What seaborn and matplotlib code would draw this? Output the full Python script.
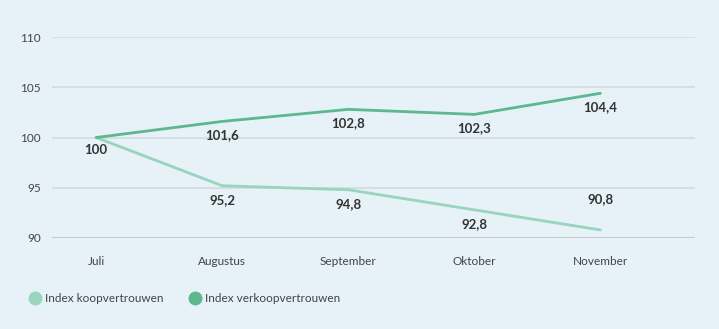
import matplotlib
matplotlib.use("Agg")
import matplotlib.pyplot as plt
import seaborn as sns
import pandas as pd
from matplotlib.lines import Line2D

months = ["Juli", "Augustus", "September", "Oktober", "November"]
koop = [100, 95.2, 94.8, 92.8, 90.8]
verkoop = [100, 101.6, 102.8, 102.3, 104.4]
series_names = ["Index koopvertrouwen", "Index verkoopvertrouwen"]
yticks = [90, 95, 100, 105, 110]

bg = "#e7f1f8"
c_koop = "#98d4be"
c_verkoop = "#5db78f"

sns.set_theme(style="white")
plt.rcParams["font.family"] = ["Lato", "DejaVu Sans"]

df = pd.DataFrame({
    "maand": months * 2,
    "x": list(range(len(months))) * 2,
    "waarde": koop + verkoop,
    "reeks": [series_names[0]] * len(months) + [series_names[1]] * len(months),
})

fig = plt.figure(figsize=(7.19, 3.29), dpi=100, facecolor=bg)
ax = fig.add_axes([0.0723, 0.2766, 0.8943, 0.6109])
ax.set_facecolor(bg)

for y in yticks[1:]:
    ax.axhline(y, color="#d3dbe0", lw=1.2, zorder=0)
ax.axhline(90, color="#c5c9cb", lw=2.2, zorder=1)

sns.lineplot(data=df, x="x", y="waarde", hue="reeks",
             palette={series_names[0]: c_koop, series_names[1]: c_verkoop},
             lw=2.0, ax=ax, legend=False, sort=False, zorder=3)

def fmt(v):
    s = f"{v:g}"
    return s.replace(".", ",")

for i, v in enumerate(verkoop):
    if i == 0:
        continue
    ax.annotate(fmt(v), (i, v), xytext=(0, -10), textcoords="offset points",
                ha="center", va="center", fontsize=9.5, fontweight="bold", color="#333333")
for i, v in enumerate(koop):
    if i == len(koop) - 1:
        off = 22
    elif i == 0:
        off = -9
    else:
        off = -10
    ax.annotate(fmt(v), (i, v), xytext=(0, off), textcoords="offset points",
                ha="center", va="center", fontsize=9.5, fontweight="bold", color="#333333")

ax.set_xlim(-0.35, 4.75)
ax.set_ylim(90, 110)
ax.set_yticks(yticks)
ax.set_yticklabels([str(t) for t in yticks])
ax.set_xticks(range(len(months)))
ax.set_xticklabels(months)
ax.tick_params(axis="y", length=0, pad=8, labelsize=8.5, labelcolor="#444444")
ax.tick_params(axis="x", length=0, pad=13, labelsize=8.5, labelcolor="#444444")
ax.set_xlabel("")
ax.set_ylabel("")
for s in ax.spines.values():
    s.set_visible(False)

handles = [Line2D([], [], ls="", marker="o", markersize=9, color=c_koop),
           Line2D([], [], ls="", marker="o", markersize=9, color=c_verkoop)]
fig.legend(handles, series_names, loc="center left", bbox_to_anchor=(0.025, 0.093),
           ncol=2, frameon=False, fontsize=8.5, handletextpad=0.35, columnspacing=2.2,
           labelcolor="#444444", handlelength=1.0)

fig.savefig("out.png", dpi=100, facecolor=bg)
